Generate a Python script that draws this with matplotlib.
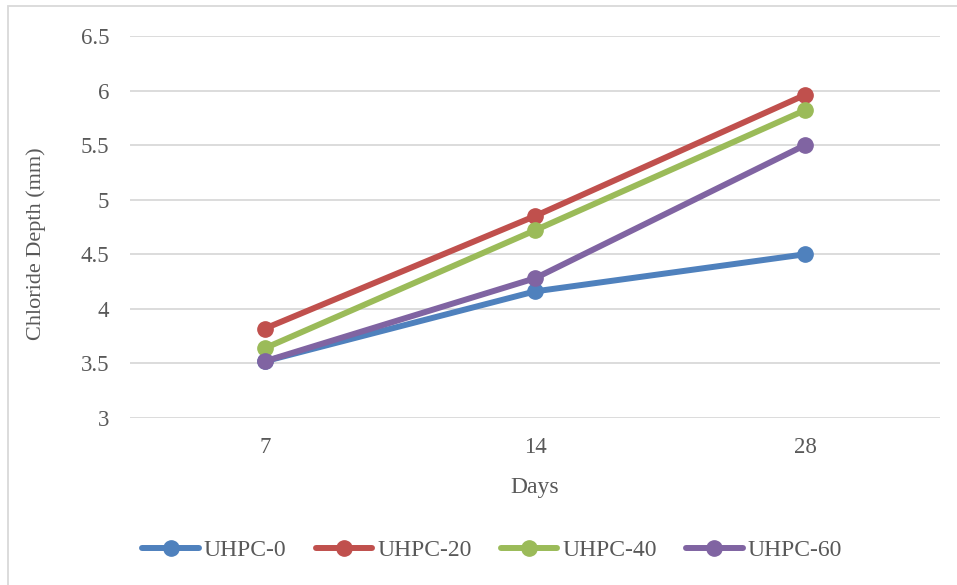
import matplotlib
matplotlib.use("Agg")
import matplotlib.pyplot as plt
from matplotlib.patches import Rectangle

days = ["7", "14", "28"]
uhpc_0 = [3.52, 4.16, 4.50]
uhpc_20 = [3.82, 4.85, 5.96]
uhpc_40 = [3.64, 4.72, 5.82]
uhpc_60 = [3.52, 4.28, 5.50]
series_names = ["UHPC-0", "UHPC-20", "UHPC-40", "UHPC-60"]
colors = ["#4F81BD", "#C0504D", "#9BBB59", "#8064A2"]
y_ticks = [3, 3.5, 4, 4.5, 5, 5.5, 6, 6.5]
y_tick_labels = ["3", "3.5", "4", "4.5", "5", "5.5", "6", "6.5"]

plt.rcParams["font.family"] = ["Liberation Serif", "DejaVu Serif"]
text_color = "#595959"
grid_color = "#D9D9D9"

W, H = 957, 585
fig = plt.figure(figsize=(W / 100, H / 100), dpi=100)
fig.patch.set_facecolor("white")

# chart-area frame
fig.patches.append(Rectangle((8 / W, 1 - 2000 / H), 3000 / W, (2000 - 6) / H,
                             transform=fig.transFigure, fill=False,
                             edgecolor=grid_color, linewidth=1.3, zorder=0))

ax = fig.add_axes([130 / W, 1 - 418 / H, 810 / W, 382 / H])
x = range(len(days))
for vals, name, c in zip([uhpc_0, uhpc_20, uhpc_40, uhpc_60], series_names, colors):
    ax.plot(x, vals, color=c, linewidth=4.3, marker="o", markersize=11,
            label=name, solid_capstyle="round", zorder=3)

ax.set_xlim(-0.5, len(days) - 0.5)
ax.set_ylim(3, 6.5)
ax.set_xticks(list(x))
ax.set_xticklabels(days)
ax.set_yticks(y_ticks)
ax.set_yticklabels(y_tick_labels)
ax.grid(axis="y", color=grid_color, linewidth=1.3)
ax.set_axisbelow(True)
for s in ["top", "right", "left", "bottom"]:
    ax.spines[s].set_visible(False)
ax.tick_params(axis="both", length=0, labelsize=16.5, colors=text_color)
ax.tick_params(axis="y", pad=15)
ax.tick_params(axis="x", pad=14)

ax.set_xlabel("Days", fontsize=17, color=text_color, labelpad=13)
ax.set_ylabel("Chloride Depth (mm)", fontsize=16, color=text_color,
              labelpad=25, y=0.5 - 17 / 382)

fig.legend(loc="center", bbox_to_anchor=(492 / W, 1 - 550 / H), ncol=4,
           frameon=False, fontsize=17, labelcolor=text_color,
           handlelength=2.4, handletextpad=0.2, columnspacing=1.24)

fig.savefig("out.png", dpi=100, facecolor="white")
